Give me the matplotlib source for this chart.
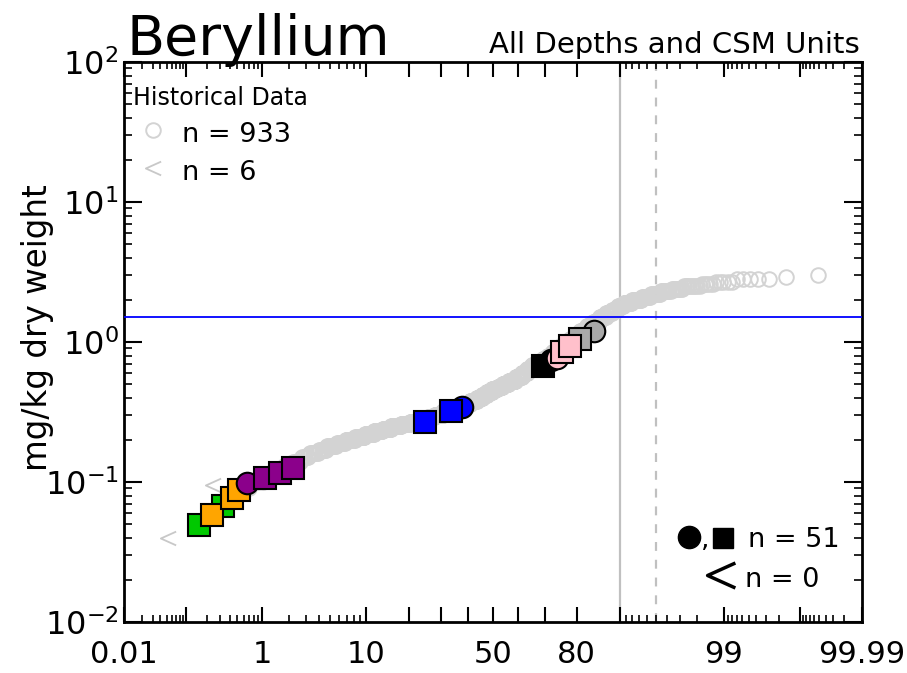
import numpy as np
import matplotlib
matplotlib.use('Agg')
import matplotlib.pyplot as plt
from matplotlib.path import Path
from matplotlib.ticker import FixedLocator, NullFormatter, LogLocator
from statistics import NormalDist

# historical detected values (mg/kg), as value levels and how many samples sit at each
hist_levels = [0.09, 0.10, 0.11, 0.12, 0.13, 0.14,
               0.15, 0.16, 0.17, 0.18, 0.19, 0.20, 0.21, 0.22, 0.23, 0.24,
               0.25, 0.26, 0.27, 0.28, 0.29, 0.30, 0.32, 0.34, 0.36, 0.38,
               0.40, 0.42, 0.44, 0.46, 0.48, 0.50, 0.53, 0.56, 0.60, 0.64,
               0.68, 0.72, 0.76, 0.80, 0.85, 0.90, 0.95, 1.0, 1.05, 1.1,
               1.2, 1.3, 1.4, 1.5, 1.6, 1.7, 1.8, 1.9, 2.0, 2.1,
               2.2, 2.3, 2.4, 2.5, 2.6, 2.7, 2.8, 2.9, 3.0]
hist_counts = [1, 3, 2, 4, 4, 5,
               5, 7, 7, 10, 10, 13, 15, 16, 17, 18,
               23, 23, 27, 25, 20, 28, 35, 31, 29, 24,
               21, 17, 20, 20, 19, 23, 26, 23, 19, 18,
               18, 18, 16, 15, 15, 14, 13, 11, 11, 16,
               16, 15, 14, 13, 12, 10, 10, 12, 13, 10,
               10, 9, 8, 9, 5, 5, 5, 1, 1]

# historical non-detects (percentile, value); they take the lowest ranks
nd_pct = [0.053, 0.24]
nd_val = [0.04, 0.095]
nd_n = 6

# current data, in drawing order
cur_pct = [0.15, 0.33, 0.23, 0.42, 0.53, 0.66, 1.08, 1.59, 2.2,
           37.7, 24.5, 33.7, 72.1, 69.3, 84.6, 80.9, 74.1, 75.7, 78.1]
cur_val = [0.049, 0.067, 0.058, 0.077, 0.088, 0.098, 0.106, 0.116, 0.126,
           0.345, 0.27, 0.32, 0.74, 0.67, 1.2, 1.05, 0.77, 0.85, 0.94]
cur_shape = ['s', 's', 's', 's', 's', 'o', 's', 's', 's',
             'o', 's', 's', 'o', 's', 'o', 's', 'o', 's', 's']
cur_group = ['green', 'green', 'orange', 'orange', 'orange', 'purple', 'purple', 'purple', 'purple',
             'blue', 'blue', 'blue', 'black', 'black', 'gray', 'gray', 'pink', 'pink', 'pink']
cur_n = 51
cur_nd = 0

ref_value = 1.5
ref_pct = [90, 95]

colors = {'green': '#00c800', 'orange': '#ffa500', 'purple': '#8b008b',
          'blue': '#0000ff', 'black': '#000000', 'gray': '#a9a9a9', 'pink': '#ffc0cb'}

# normal probability scale
nd_dist = NormalDist()
_ppf = np.vectorize(nd_dist.inv_cdf, otypes=[float])
_cdf = np.vectorize(nd_dist.cdf, otypes=[float])


def fwd(p):
    p = np.clip(np.asarray(p, dtype=float) / 100.0, 1e-12, 1 - 1e-12)
    return _ppf(p)


def inv(z):
    return _cdf(np.asarray(z, dtype=float)) * 100.0


hist_val = np.repeat(hist_levels, hist_counts)
n_hist = len(hist_val)
n_all = n_hist + nd_n
hist_pct = (np.arange(nd_n + 1, n_all + 1) - 0.5) / n_all * 100

lt = Path([[0.5, 0.45], [-0.5, 0.0], [0.5, -0.45]], [Path.MOVETO, Path.LINETO, Path.LINETO])

fig = plt.figure(figsize=(9.07, 6.73), dpi=100)
ax = fig.add_axes([124 / 907, 51 / 673, 738 / 907, 560 / 673])
ax.set_xscale('function', functions=(fwd, inv))
ax.set_yscale('log')
ax.set_xlim(0.01, 99.99)
ax.set_ylim(1e-2, 1e2)

ax.plot(hist_pct, hist_val, 'o', ms=10.5, mfc='none', mec='#d3d3d3', mew=1.4, zorder=2)
ax.plot(nd_pct, nd_val, ls='none', marker=lt, ms=11, mfc='none', mec='#c8c8c8', mew=1.3, zorder=2)

ax.axhline(ref_value, color='#0000ff', lw=1.3, zorder=3)
ax.axvline(ref_pct[0], color='#c0c0c0', lw=1.6, zorder=1)
ax.axvline(ref_pct[1], color='#c0c0c0', lw=1.6, ls=(0, (4, 4)), zorder=1)

for p, v, m, g in zip(cur_pct, cur_val, cur_shape, cur_group):
    ax.plot(p, v, marker=m, ms=15.5, mfc=colors[g], mec='black', mew=1.5, ls='none', zorder=4)

major = [0.01, 0.1, 1, 10, 20, 30, 40, 50, 60, 70, 80, 90, 99, 99.9, 99.99]
shown = {0.01: '0.01', 1: '1', 10: '10', 50: '50', 80: '80', 99: '99', 99.99: '99.99'}
ax.xaxis.set_major_locator(FixedLocator(major))
ax.set_xticklabels([shown.get(t, '') for t in major])
minor = ([i / 100 for i in range(2, 10)] + [i / 10 for i in range(2, 10)] + list(range(2, 10)) +
         list(range(91, 99)) + [99 + i / 10 for i in range(1, 9)] + [99.9 + i / 100 for i in range(1, 9)])
ax.xaxis.set_minor_locator(FixedLocator(minor))
ax.xaxis.set_minor_formatter(NullFormatter())
ax.yaxis.set_major_locator(LogLocator(base=10, numticks=10))
ax.yaxis.set_minor_locator(LogLocator(base=10, subs=range(2, 10), numticks=20))
ax.yaxis.set_minor_formatter(NullFormatter())

ax.tick_params(which='both', direction='in', top=True, right=True)
ax.tick_params(axis='x', which='major', length=11, width=1.5, pad=13, labelsize=22)
ax.tick_params(axis='x', which='minor', length=5, width=1.2)
ax.tick_params(axis='y', which='major', length=13, width=1.5, pad=4, labelsize=23)
ax.tick_params(axis='y', which='minor', length=6, width=1.2)
for s in ax.spines.values():
    s.set_linewidth(2)

fig.text(127 / 907, 1 - 55 / 673, 'Beryllium', fontsize=40, ha='left', va='baseline')
fig.text(860 / 907, 1 - 53 / 673, 'All Depths and CSM Units', fontsize=21, ha='right', va='baseline')
fig.text(38 / 907, 345 / 673, 'mg/kg dry weight', fontsize=23.5, rotation=90, ha='center', va='center')

# historical legend
ax.text(0.012, 0.923, 'Historical Data', fontsize=17, transform=ax.transAxes, va='baseline')
ax.plot(0.0393, 0.8786, 'o', ms=10.5, mfc='none', mec='#d3d3d3', mew=1.4, transform=ax.transAxes, clip_on=False)
ax.plot(0.0393, 0.8107, marker=lt, ms=11, mfc='none', mec='#c8c8c8', mew=1.3, transform=ax.transAxes, clip_on=False)
ax.text(0.0786, 0.857, f'n = {n_hist}', fontsize=19.5, transform=ax.transAxes, va='baseline')
ax.text(0.0786, 0.789, f'n = {nd_n}', fontsize=19.5, transform=ax.transAxes, va='baseline')

# current legend
ax.plot(0.7656, 0.1509, 'o', ms=16, color='black', transform=ax.transAxes, clip_on=False)
ax.plot(0.8117, 0.1500, 's', ms=14.5, color='black', transform=ax.transAxes, clip_on=False)
ax.text(0.787, 0.134, ',', fontsize=19.5, transform=ax.transAxes, ha='center', va='baseline')
ax.text(0.8455, 0.134, f'n = {cur_n}', fontsize=19.5, transform=ax.transAxes, va='baseline')
ax.plot(0.809, 0.0839, marker=lt, ms=20, mfc='none', mec='black', mew=2.5, transform=ax.transAxes, clip_on=False)
ax.text(0.8415, 0.0625, f'n = {cur_nd}', fontsize=19.5, transform=ax.transAxes, va='baseline')

fig.savefig('out.png', dpi=100)
